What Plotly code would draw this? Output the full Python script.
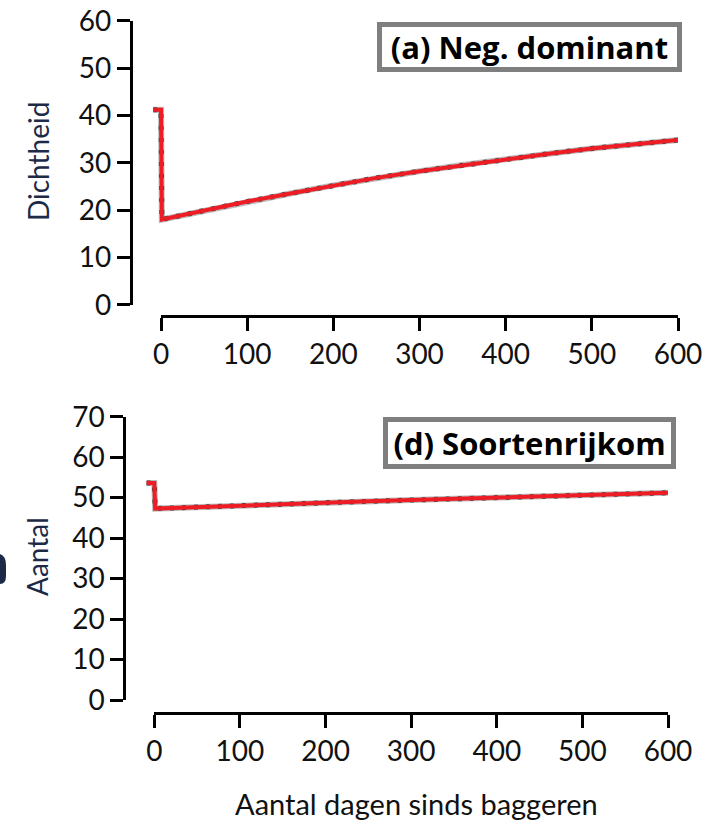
import plotly.graph_objects as go

# ---- data ----
days_a = [-9, 0, 1, 50, 100, 150, 200, 250, 300, 350, 400, 450, 500, 550, 600]
dens_a = [41.2, 41.2, 18.0, 19.9, 21.8, 23.5, 25.2, 26.8, 28.2, 29.5, 30.8, 31.9, 33.0, 33.9, 34.8]

days_d = [-9, 0, 1, 50, 100, 150, 200, 250, 300, 350, 400, 450, 500, 550, 600]
count_d = [53.6, 53.6, 47.3, 47.7, 48.0, 48.4, 48.7, 49.1, 49.4, 49.7, 50.0, 50.3, 50.6, 50.9, 51.2]

xticks = [0, 100, 200, 300, 400, 500, 600]
yticks_a = [0, 10, 20, 30, 40, 50, 60]
yticks_d = [0, 10, 20, 30, 40, 50, 60, 70]

W, H = 702, 821
FONT = "Lato"
BOXFONT = "Open Sans"
TICKCOL = "#111111"
TITLECOL = "#1c2a48"
RED = "#ee1c25"

fig = go.Figure()


def add_line(x, y, xa, ya):
    fig.add_trace(go.Scatter(x=x, y=y, xaxis=xa, yaxis=ya, mode="lines",
                             line=dict(color="#bcbcbc", width=6),
                             hoverinfo="skip", showlegend=False))
    fig.add_trace(go.Scatter(x=x, y=y, xaxis=xa, yaxis=ya, mode="lines",
                             line=dict(color="#444444", width=5, dash="4px,8px"),
                             hoverinfo="skip", showlegend=False))
    fig.add_trace(go.Scatter(x=x, y=y, xaxis=xa, yaxis=ya, mode="lines",
                             line=dict(color=RED, width=4),
                             hoverinfo="skip", showlegend=False))


def add_dummy(x, y, xa, ya):
    fig.add_trace(go.Scatter(x=x, y=y, xaxis=xa, yaxis=ya, mode="markers",
                             marker=dict(opacity=0, size=1),
                             hoverinfo="skip", showlegend=False))


add_dummy(days_a, dens_a, "x2", "y")
add_dummy(days_d, count_d, "x4", "y2")
add_line(days_a, dens_a, "x", "y")
add_line(days_d, count_d, "x3", "y2")

axis_common = dict(showline=True, linecolor="black", linewidth=2.5,
                   ticks="outside", ticklen=13, tickwidth=2.5, tickcolor="black",
                   showgrid=False, zeroline=False, automargin=False,
                   ticklabeloverflow="allow",
                   tickfont=dict(family=FONT, size=28, color=TICKCOL))


def px_x(p):
    return p / W


def px_y(p):
    return 1 - p / H


# top panel geometry
a_x0, a_x600, a_left = 161.0, 678.0, 132.5
a_y0, a_y60 = 304.7, 20.7
a_scale = (a_x600 - a_x0) / 600.0
a_xmin = (a_left - a_x0) / a_scale

# bottom panel geometry
d_x0, d_x600, d_left = 154.3, 668.0, 126.0
d_y0, d_y70 = 700.0, 416.7
d_scale = (d_x600 - d_x0) / 600.0
d_xmin = (d_left - d_x0) / d_scale

fig.update_layout(
    width=W, height=H,
    margin=dict(l=0, r=0, t=0, b=0, autoexpand=False),
    paper_bgcolor="white", plot_bgcolor="rgba(0,0,0,0)",
    showlegend=False,
    xaxis=dict(domain=[px_x(a_left), px_x(a_x600)], range=[a_xmin, 600],
               visible=False, anchor="y", automargin=False),
    xaxis2=dict(domain=[px_x(a_x0), px_x(a_x600)], range=[0, 600],
                anchor="free", position=px_y(316), tickvals=xticks,
                **axis_common),
    yaxis=dict(domain=[px_y(a_y0), px_y(a_y60)], range=[0, 60], anchor="x",
               tickvals=yticks_a, **axis_common),
    xaxis3=dict(domain=[px_x(d_left), px_x(d_x600)], range=[d_xmin, 600],
                visible=False, anchor="y2", automargin=False),
    xaxis4=dict(domain=[px_x(d_x0), px_x(d_x600)], range=[0, 600],
                anchor="free", position=px_y(713), tickvals=xticks,
                **axis_common),
    yaxis2=dict(domain=[px_y(d_y0), px_y(d_y70)], range=[0, 70], anchor="x3",
                tickvals=yticks_d, **axis_common),
)

ann = []
# axis titles
ann.append(dict(text="Dichtheid", xref="paper", yref="paper",
                x=px_x(38), y=px_y(162), textangle=-90, showarrow=False,
                font=dict(family=FONT, size=28, color=TITLECOL),
                xanchor="center", yanchor="middle"))
ann.append(dict(text="Aantal", xref="paper", yref="paper",
                x=px_x(37), y=px_y(557), textangle=-90, showarrow=False,
                font=dict(family=FONT, size=28, color=TITLECOL),
                xanchor="center", yanchor="middle"))
ann.append(dict(text="Aantal dagen sinds baggeren", xref="paper", yref="paper",
                x=px_x(416), y=px_y(803), showarrow=False,
                font=dict(family=FONT, size=29, color=TICKCOL),
                xanchor="center", yanchor="middle"))
# panel labels
ann.append(dict(text="(a) Neg. dominant", xref="paper", yref="paper",
                x=px_x(529.5), y=px_y(47), showarrow=False,
                font=dict(family=BOXFONT, size=31, color="black", weight="bold"),
                bgcolor="white", bordercolor="#7f7f7f", borderwidth=5,
                borderpad=0, width=295, height=40, align="center",
                xanchor="center", yanchor="middle"))
ann.append(dict(text="(d) Soortenrijkom", xref="paper", yref="paper",
                x=px_x(529), y=px_y(443), showarrow=False,
                font=dict(family=BOXFONT, size=31, color="black", weight="bold"),
                bgcolor="white", bordercolor="#7f7f7f", borderwidth=5,
                borderpad=0, width=283, height=42, align="center",
                xanchor="center", yanchor="middle"))
fig.update_layout(annotations=ann)

# partial glyph fragment at the left edge (decoration from the source image)
fig.add_shape(type="path", xref="paper", yref="paper",
              path="M 0 %f Q %f %f %f %f L %f %f Q %f %f 0 %f Z" % (
                  px_y(554), px_x(6), px_y(556), px_x(6), px_y(565),
                  px_x(6), px_y(576), px_x(6), px_y(584), px_y(584)),
              fillcolor=TITLECOL, line=dict(width=0), layer="above")

fig.write_html("out.html")
